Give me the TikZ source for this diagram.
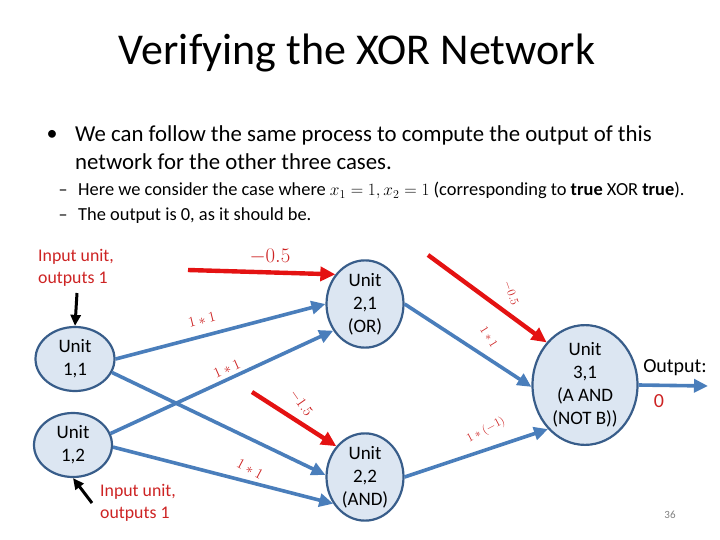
\documentclass[tikz,border=0pt]{standalone}
\usepackage{fontspec}
\setmainfont{Carlito}
\usetikzlibrary{arrows.meta,shapes.geometric}
\definecolor{unitfill}{RGB}{220,230,242}
\definecolor{unitedge}{RGB}{56,93,138}
\definecolor{wblue}{RGB}{74,126,187}
\definecolor{biasred}{RGB}{228,18,18}
\definecolor{txtred}{RGB}{205,35,35}
\tikzset{
  unit/.style={ellipse, draw=unitedge, fill=unitfill, line width=2.2pt, inner sep=0pt,
               align=center, font=\fontsize{19}{23}\selectfont},
  warr/.style={-{Triangle[length=14pt,width=13pt]}, wblue, line width=3.6pt},
  barr/.style={-{Triangle[length=15pt,width=14pt]}, biasred, line width=4.4pt},
  karr/.style={-{Triangle[length=11pt,width=10pt]}, black, line width=3pt},
  inlab/.style={font=\fontsize{17.8}{22}\selectfont, text=txtred, align=left},
  wlab/.style={font=\fontsize{14}{16}\selectfont, text=txtred},
}
\begin{document}
\begin{tikzpicture}[x=1pt, y=-1pt]
  \useasboundingbox (0,0) rectangle (720,540);
  % slide text
  \node[anchor=base] (title) at (357,65) {\fontsize{44}{52}\selectfont Verifying the XOR Network};
  \node[anchor=base] (dot) at (52,141) {\fontsize{22}{26}\selectfont •};
  \node[anchor=base west, inner sep=0pt] (l1) at (75,142) {\fontsize{22.8}{28}\selectfont We can follow the same process to compute the output of this};
  \node[anchor=base west, inner sep=0pt] (l2) at (75,170) {\fontsize{22.8}{28}\selectfont network for the other three cases.};
  \node[anchor=base] (d1) at (63,196) {\fontsize{18}{22}\selectfont –};
  \node[anchor=base west, inner sep=0pt] (s1) at (78,196) {\fontsize{18.4}{22}\selectfont Here we consider the case where $x_1=1, x_2=1$ (corresponding to \textbf{true} XOR \textbf{true}).};
  \node[anchor=base] (d2) at (63,221) {\fontsize{18}{22}\selectfont –};
  \node[anchor=base west, inner sep=0pt] (s2) at (78,221) {\fontsize{18.4}{22}\selectfont The output is 0, as it should be.};
  % units
  \node[unit, minimum width=79pt, minimum height=64pt] (u11) at (75,359) {Unit\\1,1};
  \node[unit, minimum width=78pt, minimum height=64pt] (u12) at (73,445) {Unit\\1,2};
  \node[unit, minimum width=77pt, minimum height=86pt] (u21) at (365,304) {Unit\\2,1\\(OR)};
  \node[unit, minimum width=77pt, minimum height=86pt] (u22) at (365,477) {Unit\\2,2\\(AND)};
  \node[unit, minimum width=105pt, minimum height=117pt] (u31) at (585,385) {Unit\\3,1\\(A AND\\(NOT B))};
  % free ends
  \coordinate (b21) at (188,270);
  \coordinate (b22) at (252,392);
  \coordinate (b31) at (428,255);
  \coordinate (i11) at (77,293);
  \coordinate (i12) at (92,503);
  \coordinate (out) at (708,386);
  % weights
  \draw[warr] (u11.east) -- (u21.west);
  \draw[warr] (u12.17) -- (u21.220);
  \draw[warr] (u11.-20) -- (u22.177);
  \draw[warr] (u12.-3) -- (u22.220);
  \draw[warr] (u21.east) -- (u31.182);
  \draw[warr] (u22.east) -- (u31.230);
  \draw[warr] (u31.east) -- (out);
  % biases
  \draw[barr] (b21) -- (u21.135);
  \draw[barr] (b22) -- (u22.133);
  \draw[barr] (b31) -- (u31.132);
  % inputs
  \draw[karr] (i11) -- (u11.north);
  \draw[karr] (i12) -- (u12.south);
  \node[inlab, anchor=north west, inner sep=0pt] (in1) at (38,249) {Input unit,\\outputs 1};
  \node[inlab, anchor=north west, inner sep=0pt] (in2) at (100,484) {Input unit,\\outputs 1};
  % labels
  \node[font=\fontsize{20}{22}\selectfont, text=txtred] (w0) at (270,257) {$-0.5$};
  \node[wlab, rotate=14] (w1) at (202,320) {$1*1$};
  \node[wlab, rotate=24] (w2) at (227,369) {$1*1$};
  \node[wlab, rotate=-55] (w3) at (301,403) {$-1.5$};
  \node[wlab, rotate=-28] (w4) at (250,469) {$1*1$};
  \node[wlab, rotate=-70, font=\fontsize{12}{14}\selectfont] (w5) at (511,293) {$-0.5$};
  \node[wlab, rotate=-58, font=\fontsize{12}{14}\selectfont] (w6) at (489,337) {$1*1$};
  \node[wlab, rotate=28, font=\fontsize{12}{14}\selectfont] (w7) at (486,430) {$1*(-1)$};
  \node[font=\fontsize{20}{22}\selectfont] (olab) at (675,368) {Output:};
  \node[font=\fontsize{20}{22}\selectfont, text=txtred] (oval) at (659,401) {0};
  \node[font=\fontsize{11}{12}\selectfont, text=gray] (pg) at (670,515) {36};
\end{tikzpicture}
\end{document}
